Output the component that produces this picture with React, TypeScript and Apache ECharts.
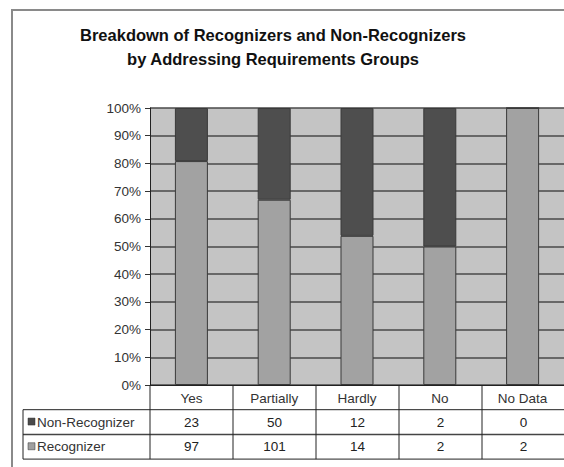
import React, { useEffect, useRef } from "react";
import * as echarts from "echarts";

const categories = ["Yes", "Partially", "Hardly", "No", "No Data"];
const nonRecognizer = [23, 50, 12, 2, 0];
const recognizer = [97, 101, 14, 2, 2];
const seriesNames = ["Non-Recognizer", "Recognizer"];
const titleLines = [
  "Breakdown of Recognizers and Non-Recognizers",
  "by Addressing Requirements Groups",
];

const GRID_LEFT = 150;
const GRID_TOP = 108;
const GRID_W = 415;
const GRID_H = 277;
const ROW_H = 24.7;
const TABLE_LEFT = 23;
const FONT = "Arial, 'Liberation Sans', sans-serif";

export default function App() {
  const ref = useRef<HTMLDivElement>(null);
  useEffect(() => {
    if (!ref.current) return;
    const chart = echarts.init(ref.current, undefined, { renderer: "svg" });
    const totals = categories.map((_, i) => nonRecognizer[i] + recognizer[i]);
    const recPct = recognizer.map((v, i) => (totals[i] ? (v / totals[i]) * 100 : 0));
    const nonPct = nonRecognizer.map((v, i) => (totals[i] ? (v / totals[i]) * 100 : 0));

    const axisY = GRID_TOP + GRID_H;
    const colW = GRID_W / categories.length;
    const right = GRID_LEFT + GRID_W;
    const row1 = axisY + ROW_H;
    const row2 = row1 + ROW_H;
    const row3 = row2 + ROW_H;
    const lineStyle = { stroke: "#222", lineWidth: 1 };
    const graphics: any[] = [];
    // outer frame
    graphics.push({
      type: "rect",
      shape: { x: 12, y: 10, width: 600, height: 500 },
      style: { fill: "none", stroke: "#8a8a8a", lineWidth: 2 },
      silent: true,
    });
    titleLines.forEach((t, i) => {
      graphics.push({
        type: "text",
        x: 273,
        y: 35 + i * 24,
        style: {
          text: t,
          fill: "#111",
          font: "bold 16.5px " + FONT,
          textAlign: "center",
          textVerticalAlign: "middle",
        },
      });
    });
    // table horizontal lines
    [row1, row2, row3].forEach((y) => {
      graphics.push({
        type: "line",
        shape: { x1: TABLE_LEFT, y1: y, x2: right, y2: y },
        style: y === row2 ? { stroke: "#444", lineWidth: 1.5 } : lineStyle,
      });
    });
    // table vertical lines
    graphics.push({
      type: "line",
      shape: { x1: TABLE_LEFT, y1: row1, x2: TABLE_LEFT, y2: row3 },
      style: lineStyle,
    });
    for (let i = 0; i <= categories.length; i++) {
      const x = GRID_LEFT + i * colW;
      graphics.push({
        type: "line",
        shape: { x1: x, y1: axisY, x2: x, y2: row3 },
        style: lineStyle,
      });
    }
    const rows = [nonRecognizer, recognizer];
    const keyColors = ["#4a4a4a", "#a0a0a0"];
    rows.forEach((vals, r) => {
      const cy = row1 + ROW_H * (r + 0.5);
      graphics.push({
        type: "rect",
        shape: { x: 28, y: cy - 4, width: 7, height: 7 },
        style: { fill: keyColors[r], stroke: "#333", lineWidth: 0.5 },
      });
      graphics.push({
        type: "text",
        x: 37,
        y: cy,
        style: {
          text: seriesNames[r],
          fill: "#333",
          font: "13.5px " + FONT,
          textVerticalAlign: "middle",
        },
      });
      vals.forEach((v, i) => {
        graphics.push({
          type: "text",
          x: GRID_LEFT + colW * (i + 0.5),
          y: cy,
          style: {
            text: String(v),
            fill: "#222",
            font: "13.5px " + FONT,
            textAlign: "center",
            textVerticalAlign: "middle",
          },
        });
      });
    });

    chart.setOption({
      animation: false,
      backgroundColor: "#ffffff",
      grid: {
        left: GRID_LEFT,
        top: GRID_TOP,
        width: GRID_W,
        height: GRID_H,
        show: true,
        backgroundColor: "#c4c4c4",
        borderWidth: 0,
      },
      xAxis: {
        type: "category",
        data: categories,
        axisLine: { lineStyle: { color: "#222", width: 1 } },
        axisTick: { show: false },
        axisLabel: {
          color: "#333",
          fontSize: 13.5,
          fontFamily: FONT,
          margin: 6,
        },
      },
      yAxis: {
        type: "value",
        min: 0,
        max: 100,
        interval: 10,
        axisLine: { show: true, lineStyle: { color: "#222", width: 1 } },
        axisTick: { show: true, length: 5, lineStyle: { color: "#333" } },
        axisLabel: {
          formatter: "{value}%",
          color: "#333",
          fontSize: 13.5,
          fontFamily: FONT,
          margin: 9,
        },
        splitLine: { show: true, lineStyle: { color: "#4a4a4a", width: 1.5 } },
      },
      series: [
        {
          name: seriesNames[1],
          type: "bar",
          stack: "total",
          barWidth: 33,
          data: recPct,
          itemStyle: { color: "#a2a2a2", borderColor: "#3a3a3a", borderWidth: 1 },
        },
        {
          name: seriesNames[0],
          type: "bar",
          stack: "total",
          barWidth: 33,
          data: nonPct,
          itemStyle: { color: "#4e4e4e", borderColor: "#3a3a3a", borderWidth: 1 },
        },
      ],
      graphic: graphics,
    });
    return () => chart.dispose();
  }, []);
  return (
    <div
      ref={ref}
      style={{ position: "fixed", left: 0, top: 0, width: 564, height: 467 }}
    />
  );
}
